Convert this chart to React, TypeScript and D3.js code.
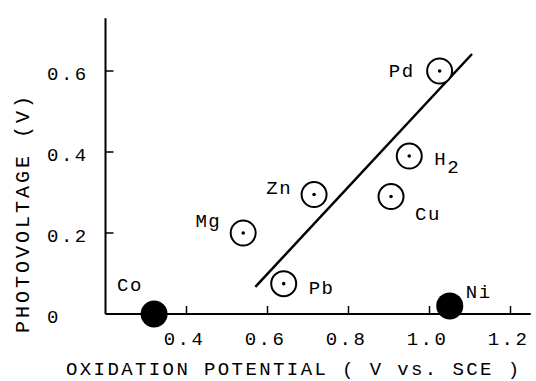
import React, { useEffect, useRef } from 'react';
import * as d3 from 'd3';

// open circles
const openNames = ['Mg', 'Zn', 'Pb', 'Cu', 'H', 'Pd'];
const openX = [0.54, 0.715, 0.64, 0.905, 0.95, 1.025];
const openY = [0.2, 0.295, 0.075, 0.29, 0.39, 0.6];

// filled circles
const filledNames = ['Co', 'Ni'];
const filledX = [0.32, 1.05];
const filledY = [0.0, 0.02];

// fitted line end points
const fitX = [0.57, 1.105];
const fitY = [0.067, 0.642];

const xTicks = [0.4, 0.6, 0.8, 1.0, 1.2];
const yTicks = [0.2, 0.4, 0.6];
const yLabels = ['0', '0.2', '0.4', '0.6'];

const xTitle = 'OXIDATION POTENTIAL ( V vs. SCE )';
const yTitle = 'PHOTOVOLTAGE (V)';

// label placement around each marker: [dx, dy, anchor]
const labelPos: Record<string, [number, number, string]> = {
  Mg: [-22, -6, 'end'],
  Zn: [-22, -1, 'end'],
  Pb: [25, 10, 'start'],
  Cu: [24, 23, 'start'],
  H: [25, 9, 'start'],
  Pd: [-25, 6, 'end'],
  Co: [-37, -23, 'start'],
  Ni: [16, -8, 'start'],
};

const FONT = '"Liberation Mono", "DejaVu Sans Mono", monospace';

function App() {
  const ref = useRef<SVGSVGElement>(null);

  useEffect(() => {
    const svg = d3.select(ref.current);
    svg.selectAll('*').remove();

    const x = d3.scaleLinear().domain([0.2, 1.25]).range([105.5, 530.75]);
    const y = d3.scaleLinear().domain([0, 0.73]).range([314, 18.35]);

    const g = svg.append('g');

    // axes lines
    g.append('line')
      .attr('x1', x(0.2)).attr('x2', x(1.25))
      .attr('y1', y(0)).attr('y2', y(0))
      .attr('stroke', '#000').attr('stroke-width', 2);
    g.append('line')
      .attr('x1', x(0.2)).attr('x2', x(0.2))
      .attr('y1', y(0)).attr('y2', y(0.73))
      .attr('stroke', '#000').attr('stroke-width', 2);

    // ticks
    g.selectAll('.xt').data(xTicks).join('line')
      .attr('x1', d => x(d)).attr('x2', d => x(d))
      .attr('y1', y(0)).attr('y2', y(0) - 8)
      .attr('stroke', '#000').attr('stroke-width', 1.5);
    g.selectAll('.yt').data(yTicks).join('line')
      .attr('x1', x(0.2)).attr('x2', x(0.2) + 8)
      .attr('y1', d => y(d)).attr('y2', d => y(d))
      .attr('stroke', '#000').attr('stroke-width', 1.5);

    const txt = (sel: any, size: number, spacing: number) => sel
      .attr('font-family', FONT)
      .attr('font-size', size)
      .attr('letter-spacing', spacing)
      .attr('fill', '#000');

    // tick labels
    g.selectAll('.xl').data(xTicks).join('text')
      .call(txt, 19, 2.5)
      .attr('x', d => x(d) - 2)
      .attr('y', 345)
      .attr('text-anchor', 'middle')
      .text(d => d3.format('.1f')(d));
    g.selectAll('.yl').data(yLabels).join('text')
      .call(txt, 19, 2.5)
      .attr('x', 47)
      .attr('y', d => y(+d) + 9)
      .text(d => d);

    // titles
    g.append('text').call(txt, 19, 2.4)
      .attr('x', 66).attr('y', 375)
      .text(xTitle);
    g.append('text').call(txt, 20, 3)
      .attr('transform', 'translate(29,213) rotate(-90)')
      .attr('text-anchor', 'middle')
      .text(yTitle);

    // fit line
    g.append('line')
      .attr('x1', x(fitX[0])).attr('y1', y(fitY[0]))
      .attr('x2', x(fitX[1])).attr('y2', y(fitY[1]))
      .attr('stroke', '#000').attr('stroke-width', 2.5);

    // open markers
    const open = openNames.map((n, i) => ({ n, x: openX[i], y: openY[i] }));
    g.selectAll('.oc').data(open).join('circle')
      .attr('cx', d => x(d.x)).attr('cy', d => y(d.y)).attr('r', 12.5)
      .attr('fill', '#fff').attr('stroke', '#000').attr('stroke-width', 2);
    g.selectAll('.od').data(open).join('circle')
      .attr('cx', d => x(d.x)).attr('cy', d => y(d.y)).attr('r', 1.8)
      .attr('fill', '#000');

    // filled markers
    const filled = filledNames.map((n, i) => ({ n, x: filledX[i], y: filledY[i] }));
    g.selectAll('.fc').data(filled).join('circle')
      .attr('cx', d => x(d.x)).attr('cy', d => y(d.y)).attr('r', 13.5)
      .attr('fill', '#000');

    // marker labels
    const labels = g.selectAll('.ml').data([...open, ...filled]).join('text')
      .call(txt, 19, 1.5)
      .attr('x', d => x(d.x) + labelPos[d.n][0])
      .attr('y', d => y(d.y) + labelPos[d.n][1])
      .attr('text-anchor', d => labelPos[d.n][2])
      .text(d => d.n);
    labels.filter(d => d.n === 'H')
      .append('tspan').attr('dy', 8).text('2');
  }, []);

  return (
    <svg ref={ref} width={536} height={381}
      style={{ position: 'absolute', left: 0, top: 0, background: '#fff' }} />
  );
}

export default App;
